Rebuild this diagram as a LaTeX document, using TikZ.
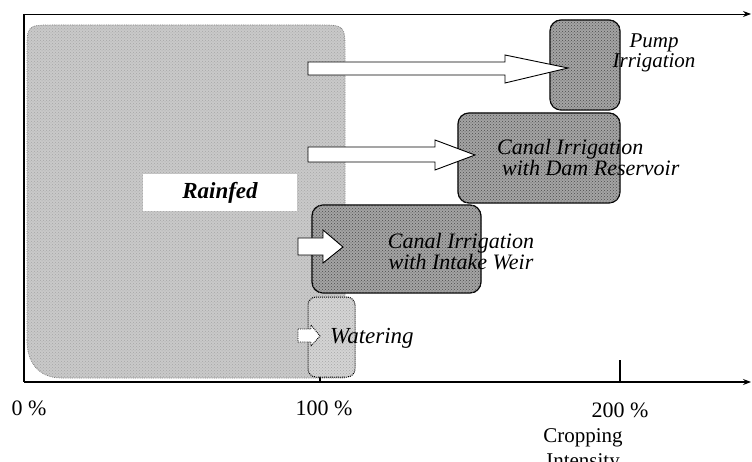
\documentclass[tikz,border=0pt]{standalone}
\usepackage{fontspec}
\setmainfont{Liberation Serif}
\usetikzlibrary{arrows.meta,patterns}
\definecolor{rainc}{HTML}{C9C9C9}
\definecolor{boxc}{HTML}{A4A4A4}
\tikzset{
  axisline/.style={line width=1.1pt,-{Stealth[length=8pt,width=6pt]}},
  irrbox/.style={draw=black,line width=1.2pt,fill=boxc,rounded corners=11pt,inner sep=0pt},
  blockarrow/.style={draw=black,line width=0.9pt,fill=white},
  lbl/.style={font=\fontsize{22}{21}\selectfont\itshape,inner sep=0pt},
  axlbl/.style={font=\fontsize{22}{24}\selectfont,inner sep=0pt}
}
\begin{document}
\begin{tikzpicture}[x=1pt,y=-1pt]
\useasboundingbox (0,0) rectangle (752,462);
\clip (0,0) rectangle (752,462);
% Rainfed region
\path[fill=rainc,draw=gray,densely dotted,line width=0.8pt]
  (27,340) -- (27,52) .. controls (27,25) .. (54,25) -- (318,25)
  .. controls (345,25) .. (345,52) -- (345,378) -- (62,378)
  .. controls (38,378) and (27,362) .. (27,340) -- cycle;
\path[pattern=crosshatch dots,pattern color=gray!70]
  (27,340) -- (27,52) .. controls (27,25) .. (54,25) -- (318,25)
  .. controls (345,25) .. (345,52) -- (345,378) -- (62,378)
  .. controls (38,378) and (27,362) .. (27,340) -- cycle;
\node[fill=white,minimum width=154pt,minimum height=37pt,inner sep=0pt,
      font=\fontsize{23}{25}\selectfont\bfseries\itshape] (rainfed) at (220,193) {Rainfed};
% Axes
\coordinate (o) at (24,382);
\coordinate (tl) at (24,14);
\coordinate (xend) at (751,382);
\coordinate (tend) at (751,14);
\draw[line width=1.1pt] (tl) -- (o);
\draw[axisline] (o) -- (xend);
\draw[axisline,line width=0.9pt] (tl) -- (tend);
\coordinate (t100) at (320,382);
\coordinate (t200) at (620,382);
\draw[line width=1.1pt] (t100) -- ++(0,-25);
\draw[line width=1.1pt] (t200) -- ++(0,-22);
% Watering
\node[draw=black,densely dotted,line width=1pt,fill=rainc!80,rounded corners=8pt,
      minimum width=47pt,minimum height=80pt,inner sep=0pt] (watering) at (331.5,337) {};
\path[pattern=crosshatch dots,pattern color=gray!70,rounded corners=8pt]
  (watering.north west) rectangle (watering.south east);
\draw[blockarrow,densely dotted] (298,329) -- (311,329) -- (311,325) -- (320,336)
  -- (311,346) -- (311,342) -- (298,342) -- cycle;
\node[lbl,anchor=west,font=\fontsize{23}{25}\selectfont\itshape] (wtxt) at (330,338) {Watering};
% Irrigation boxes
\node[irrbox,minimum width=169pt,minimum height=88pt] (weir) at (396.5,249) {};
\node[irrbox,minimum width=162pt,minimum height=90pt] (dam) at (539,158) {};
\node[irrbox,minimum width=70pt,minimum height=90pt] (pump) at (585,65) {};
\foreach \b in {weir,dam,pump}{
  \path[pattern=crosshatch dots,pattern color=gray!60!black,rounded corners=11pt]
    (\b.north west) rectangle (\b.south east);
}
% Block arrows
\draw[blockarrow] (308,62) -- (505,62) -- (505,55) -- (568,68) -- (505,83)
  -- (505,75) -- (308,75) -- cycle;
\draw[blockarrow] (308,147) -- (435,147) -- (435,140) -- (475,155) -- (435,170)
  -- (435,162) -- (308,162) -- cycle;
\draw[blockarrow] (298,238) -- (323,238) -- (323,230) -- (343,247) -- (323,263)
  -- (323,255) -- (298,255) -- cycle;
% Labels
\node[lbl,align=center,font=\fontsize{21}{20}\selectfont\itshape] (ptxt) at (654,53) {Pump\\Irrigation};
\node[lbl,align=left,anchor=west] (dtxt) at (497,157) {Canal Irrigation\\\hspace{5pt}with Dam Reservoir};
\node[lbl,align=center] (wtxt2) at (461,252) {Canal Irrigation\\with Intake Weir};
\node[axlbl] (l0) at (29,408) {0 \%};
\node[axlbl] (l100) at (324,408) {100 \%};
\node[axlbl] (l200) at (620,410) {200 \%};
\node[font=\fontsize{21}{25}\selectfont,align=center,anchor=north,inner sep=0pt] (ci) at (583,428) {Cropping\\Intensity};
\end{tikzpicture}
\end{document}
